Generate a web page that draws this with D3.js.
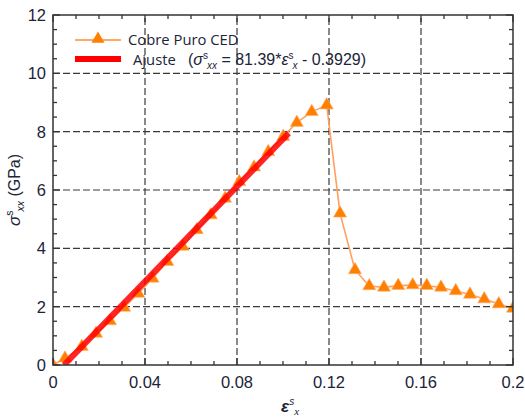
<!DOCTYPE html>
<html><head><meta charset="utf-8">
<script src="https://cdn.jsdelivr.net/npm/d3@7"></script>
<style>body{margin:0;background:#fff}svg{display:block}</style>
</head><body>
<script>
// Data
const strain = [0.0, 0.0052, 0.0125, 0.0187, 0.0248, 0.0309, 0.0371, 0.0433, 0.0497, 0.0564, 0.0625, 0.0686, 0.0748, 0.0810, 0.0874, 0.0936, 0.1001, 0.1060, 0.1125, 0.1190, 0.1248, 0.1313, 0.1375, 0.1439, 0.1501, 0.1564, 0.1625, 0.1687, 0.1751, 0.1813, 0.1875, 0.1938, 0.2000];
const stress = [0.0, 0.23, 0.63, 1.08, 1.51, 1.97, 2.45, 2.97, 3.54, 4.06, 4.63, 5.14, 5.71, 6.28, 6.78, 7.31, 7.83, 8.31, 8.68, 8.91, 5.20, 3.26, 2.71, 2.66, 2.72, 2.74, 2.72, 2.66, 2.54, 2.42, 2.26, 2.09, 1.94];
const fitStrain = [0.0048, 0.1025];
const fitStress = [0.0, 7.95];
const xTicks = [0, 0.04, 0.08, 0.12, 0.16, 0.2];
const xTickLabels = ["0", "0.04", "0.08", "0.12", "0.16", "0.2"];
const yTicks = [0, 2, 4, 6, 8, 10, 12];
const seriesName = "Cobre Puro CED";
const fitName = "Ajuste";

const W = 525, H = 419;
const svg = d3.select("body").append("svg").attr("width", W).attr("height", H);
const x = d3.scaleLinear().domain([0, 0.2]).range([53, 513]);
const y = d3.scaleLinear().domain([0, 12]).range([365, 15]);
const axisColor = "#333";

// grid
const g = svg.append("g");
g.selectAll(".gx").data(xTicks.slice(1, -1)).enter().append("line")
  .attr("x1", d => x(d)).attr("x2", d => x(d)).attr("y1", y(0)).attr("y2", y(12))
  .attr("stroke", "#3a3a3a").attr("stroke-width", 1.2).attr("stroke-dasharray", "7,3");
g.selectAll(".gy").data(yTicks.slice(1, -1)).enter().append("line")
  .attr("y1", d => y(d)).attr("y2", d => y(d)).attr("x1", x(0)).attr("x2", x(0.2))
  .attr("stroke", "#3a3a3a").attr("stroke-width", 1.2).attr("stroke-dasharray", "7,3");

// clip
svg.append("clipPath").attr("id", "clip").append("rect")
  .attr("x", x(0)).attr("y", y(12)).attr("width", x(0.2) - x(0)).attr("height", y(0) - y(12));
const plot = svg.append("g").attr("clip-path", "url(#clip)");

const pts = strain.map((s, i) => [s, stress[i]]);
plot.append("path").datum(pts)
  .attr("d", d3.line().x(d => x(d[0])).y(d => y(d[1])))
  .attr("fill", "none").attr("stroke", "#FFA060").attr("stroke-width", 1.6);

const tri = d3.symbol().type(d3.symbolTriangle).size(74);
plot.selectAll(".m").data(pts).enter().append("path")
  .attr("d", tri).attr("transform", d => `translate(${x(d[0])},${y(d[1])})`)
  .attr("fill", "#FF8000").attr("stroke", "#FFB070").attr("stroke-width", 0.6);

const fitPts = fitStrain.map((s, i) => [s, fitStress[i]]);
plot.append("path").datum(fitPts)
  .attr("d", d3.line().x(d => x(d[0])).y(d => y(d[1])))
  .attr("fill", "none").attr("stroke", "#FF0000").attr("stroke-width", 6).attr("stroke-opacity", 0.85);

// axes with inward ticks
const minorX = d3.range(0, 0.2001, 0.01);
const minorY = d3.range(0, 12.001, 0.5);
const isMajX = d => Math.abs(d / 0.04 - Math.round(d / 0.04)) < 1e-6;
const isMajY = d => Math.abs(d / 2 - Math.round(d / 2)) < 1e-6;
const ax = svg.append("g").attr("stroke", axisColor).attr("stroke-width", 1.3);
ax.selectAll(".tb").data(minorX).enter().append("line")
  .attr("x1", d => x(d)).attr("x2", d => x(d)).attr("y1", y(0)).attr("y2", d => y(0) - (isMajX(d) ? 7 : 4));
ax.selectAll(".tt").data(minorX).enter().append("line")
  .attr("x1", d => x(d)).attr("x2", d => x(d)).attr("y1", y(12)).attr("y2", d => y(12) + (isMajX(d) ? 7 : 4));
ax.selectAll(".tl").data(minorY).enter().append("line")
  .attr("y1", d => y(d)).attr("y2", d => y(d)).attr("x1", x(0)).attr("x2", d => x(0) + (isMajY(d) ? 7 : 4));
ax.selectAll(".tr").data(minorY).enter().append("line")
  .attr("y1", d => y(d)).attr("y2", d => y(d)).attr("x1", x(0.2)).attr("x2", d => x(0.2) - (isMajY(d) ? 7 : 4));
svg.append("rect").attr("x", x(0)).attr("y", y(12)).attr("width", x(0.2) - x(0)).attr("height", y(0) - y(12))
  .attr("fill", "none").attr("stroke", axisColor).attr("stroke-width", 1.5);

// tick labels
const lblColor = "#1c2438";
svg.selectAll(".xl").data(xTicks).enter().append("text")
  .attr("x", d => x(d)).attr("y", 388).attr("text-anchor", "middle")
  .attr("font-family", "Liberation Sans, Arial, sans-serif").attr("font-size", 16.5).attr("fill", lblColor)
  .text((d, i) => xTickLabels[i]);
svg.selectAll(".yl").data(yTicks).enter().append("text")
  .attr("x", 46).attr("y", d => y(d)).attr("dy", "0.36em").attr("text-anchor", "end")
  .attr("font-family", "Liberation Sans, Arial, sans-serif").attr("font-size", 16.5).attr("fill", lblColor)
  .text(d => d);

// axis titles
const yt = svg.append("text").attr("transform", "translate(20,190) rotate(-90)")
  .attr("text-anchor", "middle").attr("font-family", "Liberation Sans, Arial, sans-serif")
  .attr("font-size", 16).attr("fill", "#1c2438");
yt.append("tspan").attr("font-style", "italic").attr("font-size", 17).text("σ");
yt.append("tspan").attr("font-size", 10.5).attr("dy", -7).text("s");
yt.append("tspan").attr("font-size", 10.5).attr("font-style", "italic").attr("dx", -1).attr("dy", 11).text("xx");
yt.append("tspan").attr("dy", -4).text(" (GPa)");

const xt = svg.append("text").attr("x", 281).attr("y", 412)
  .attr("font-family", "Liberation Sans, Arial, sans-serif").attr("fill", "#1c2438");
xt.append("tspan").attr("font-style", "italic").attr("font-weight", "bold").attr("font-size", 17).text("ε");
xt.append("tspan").attr("font-size", 10).attr("font-style", "italic").attr("dy", -7).text("s");
xt.append("tspan").attr("font-size", 11).attr("font-style", "italic").attr("font-family", "Liberation Serif, serif").attr("dx", 0).attr("dy", 10).text("x");

// legend
const lg = svg.append("g");
lg.append("line").attr("x1", 75).attr("x2", 121).attr("y1", 40).attr("y2", 40)
  .attr("stroke", "#FF8C30").attr("stroke-width", 1.5);
lg.append("path").attr("d", tri).attr("transform", "translate(98,39)").attr("fill", "#FF8000");
lg.append("text").attr("x", 128).attr("y", 45).attr("font-family", "Open Sans, sans-serif")
  .attr("font-size", 14.8).attr("fill", "#1c2438").text(seriesName);
lg.append("line").attr("x1", 75).attr("x2", 121).attr("y1", 59).attr("y2", 59)
  .attr("stroke", "#FF0000").attr("stroke-width", 6);
lg.append("text").attr("x", 133).attr("y", 65).attr("font-family", "Open Sans, sans-serif")
  .attr("font-size", 14.8).attr("fill", "#1c2438").text(fitName);
const f = lg.append("text").attr("x", 188).attr("y", 65).attr("font-family", "Liberation Sans, Arial, sans-serif")
  .attr("font-size", 16).attr("fill", "#1c2438");
f.append("tspan").text("(");
f.append("tspan").attr("font-style", "italic").text("σ");
f.append("tspan").attr("font-size", 10).attr("dy", -6).text("s");
f.append("tspan").attr("font-size", 10).attr("font-style", "italic").attr("dx", -1).attr("dy", 10).text("xx");
f.append("tspan").attr("dy", -4).text(" = 81.39*");
f.append("tspan").attr("font-style", "italic").text("ε");
f.append("tspan").attr("font-size", 10).attr("dy", -6).text("s");
f.append("tspan").attr("font-size", 10).attr("font-style", "italic").attr("dx", -1).attr("dy", 10).text("x");
f.append("tspan").attr("dy", -4).text(" - 0.3929)");
</script>
</body></html>
